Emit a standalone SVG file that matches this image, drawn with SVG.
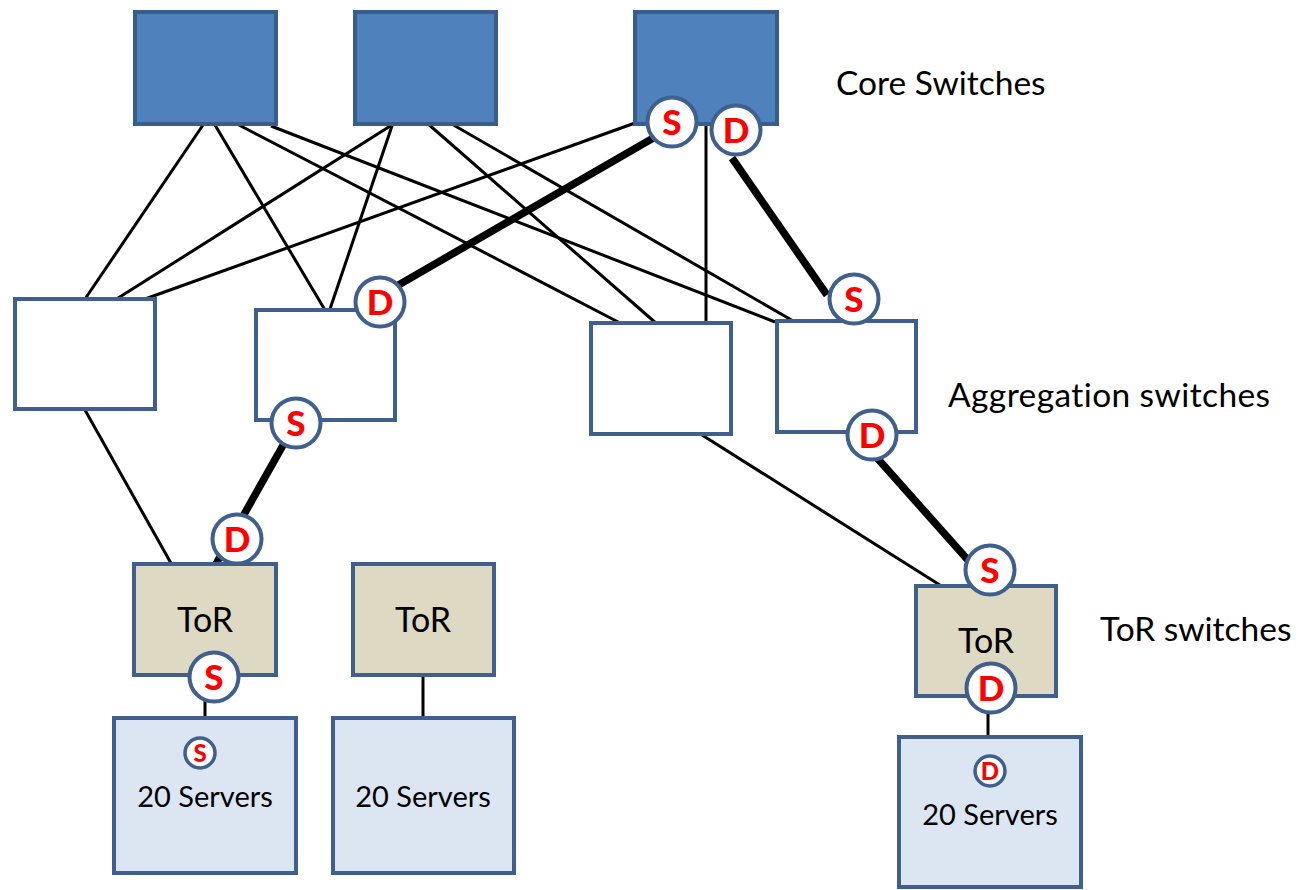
<svg xmlns="http://www.w3.org/2000/svg" width="1299" height="890" viewBox="0 0 1299 890">
  <style>
    .core { fill: #4F81BD; stroke: #385D8A; stroke-width: 4; }
    .agg { fill: #FFFFFF; stroke: #3F5F8C; stroke-width: 4; }
    .tor { fill: #DDD9C3; stroke: #3F5F8C; stroke-width: 4; }
    .srv { fill: #DCE6F2; stroke: #3F5F8C; stroke-width: 4; }
    .thin { stroke: #000; stroke-width: 3; fill: none; }
    .thick { stroke: #000; stroke-width: 7.5; fill: none; }
    .port { fill: #FFFFFF; stroke: #3F5F8C; stroke-width: 4; }
    .port-s { fill: #FFFFFF; stroke: #3F5F8C; stroke-width: 3.5; }
    .pl { font-family: Lato, "Open Sans", sans-serif; font-weight: 900; font-size: 35px; fill: #FF0000; text-anchor: middle; }
    .pl-s { font-family: Lato, "Open Sans", sans-serif; font-weight: 900; font-size: 24px; fill: #FF0000; text-anchor: middle; }
    .lbl { font-family: Lato, "Open Sans", sans-serif; font-size: 33.5px; fill: #000; }
    .agl { font-family: Lato, "Open Sans", sans-serif; font-size: 33.5px; fill: #000; letter-spacing: 0.4px; }
    .nl { font-family: Lato, "Open Sans", sans-serif; font-size: 34px; fill: #000; text-anchor: middle; }
    .sl { font-family: Lato, "Open Sans", sans-serif; font-size: 29px; fill: #000; text-anchor: middle; }
  </style>

  <!-- links -->
  <g id="connectors">
    <!-- core 1 -->
    <line class="thin" x1="203" y1="125" x2="85" y2="299"/>
    <line class="thin" x1="215" y1="125" x2="325" y2="310"/>
    <line class="thin" x1="237" y1="124" x2="622" y2="324"/>
    <line class="thin" x1="271" y1="126" x2="775" y2="322"/>
    <!-- core 2 -->
    <line class="thin" x1="395" y1="123" x2="115" y2="300"/>
    <line class="thin" x1="393" y1="123" x2="330" y2="309"/>
    <line class="thin" x1="427" y1="123" x2="657" y2="324"/>
    <line class="thin" x1="450" y1="123" x2="795" y2="322"/>
    <!-- core 3 -->
    <line class="thin" x1="635" y1="123" x2="145" y2="299"/>
    <line class="thin" x1="706" y1="123" x2="706" y2="324"/>
    <line class="thick" x1="395" y1="287" x2="655" y2="137"/>
    <line class="thick" x1="732" y1="158" x2="827" y2="295"/>
    <!-- aggregation to ToR -->
    <line class="thin" x1="85" y1="410" x2="172" y2="565"/>
    <line class="thick" x1="290" y1="433" x2="216" y2="564"/>
    <line class="thin" x1="702" y1="435" x2="943" y2="587"/>
    <line class="thick" x1="870" y1="450" x2="975" y2="568"/>
    <!-- ToR to servers -->
    <line class="thin" x1="205" y1="690" x2="205" y2="719"/>
    <line class="thin" x1="423" y1="676" x2="423" y2="719"/>
    <line class="thin" x1="988" y1="700" x2="988" y2="738"/>
  </g>

  <!-- core switches -->
  <g id="core1"><rect class="core" x="135" y="12" width="141" height="112"/></g>
  <g id="core2"><rect class="core" x="355" y="12" width="141" height="112"/></g>
  <g id="core3">
    <rect class="core" x="635" y="12" width="142" height="112"/>
    <circle class="port" cx="672" cy="122" r="24.5"/>
    <text class="pl" x="672" y="134.5">S</text>
    <circle class="port" cx="736" cy="130" r="24.5"/>
    <text class="pl" x="736" y="142.5">D</text>
  </g>

  <!-- aggregation switches -->
  <g id="agg1"><rect class="agg" x="15" y="299" width="140" height="110"/></g>
  <g id="agg2">
    <rect class="agg" x="256" y="310" width="139" height="110"/>
    <circle class="port" cx="380" cy="302" r="24.5"/>
    <text class="pl" x="380" y="314.5">D</text>
    <circle class="port" cx="296" cy="423" r="24.5"/>
    <text class="pl" x="296" y="435.5">S</text>
  </g>
  <g id="agg3"><rect class="agg" x="591" y="323" width="140" height="111"/></g>
  <g id="agg4">
    <rect class="agg" x="777" y="321" width="139" height="111"/>
    <circle class="port" cx="854" cy="299" r="24.5"/>
    <text class="pl" x="854" y="311.5">S</text>
    <circle class="port" cx="872" cy="435" r="24.5"/>
    <text class="pl" x="872" y="447.5">D</text>
  </g>

  <!-- ToR switches -->
  <g id="tor1">
    <rect class="tor" x="134" y="564" width="142" height="111"/>
    <text class="nl" x="205" y="632">ToR</text>
    <circle class="port" cx="237" cy="539" r="24.5"/>
    <text class="pl" x="237" y="551.5">D</text>
    <circle class="port" cx="214" cy="677" r="24.5"/>
    <text class="pl" x="214" y="689.5">S</text>
  </g>
  <g id="tor2">
    <rect class="tor" x="353" y="564" width="141" height="111"/>
    <text class="nl" x="423" y="632">ToR</text>
  </g>
  <g id="tor3">
    <rect class="tor" x="916" y="586" width="140" height="110"/>
    <text class="nl" x="986" y="653">ToR</text>
    <circle class="port" cx="990" cy="570" r="24.5"/>
    <text class="pl" x="990" y="582.5">S</text>
    <circle class="port" cx="991" cy="688" r="24.5"/>
    <text class="pl" x="991" y="700.5">D</text>
  </g>

  <!-- server racks -->
  <g id="servers1">
    <rect class="srv" x="114" y="718" width="182" height="155"/>
    <circle class="port-s" cx="200" cy="753" r="15"/>
    <text class="pl-s" x="200" y="761.5">S</text>
    <text class="sl" x="205" y="807">20 Servers</text>
  </g>
  <g id="servers2">
    <rect class="srv" x="333" y="718" width="181" height="155"/>
    <text class="sl" x="423" y="807">20 Servers</text>
  </g>
  <g id="servers3">
    <rect class="srv" x="899" y="737" width="182" height="150"/>
    <circle class="port-s" cx="990" cy="771" r="15"/>
    <text class="pl-s" x="990" y="779.5">D</text>
    <text class="sl" x="990" y="825">20 Servers</text>
  </g>

  <!-- tier labels -->
  <g id="labels">
    <text class="lbl" x="836" y="95">Core Switches</text>
    <text class="agl" x="948" y="407">Aggregation switches</text>
    <text class="lbl" x="1100" y="641">ToR switches</text>
  </g>
</svg>
